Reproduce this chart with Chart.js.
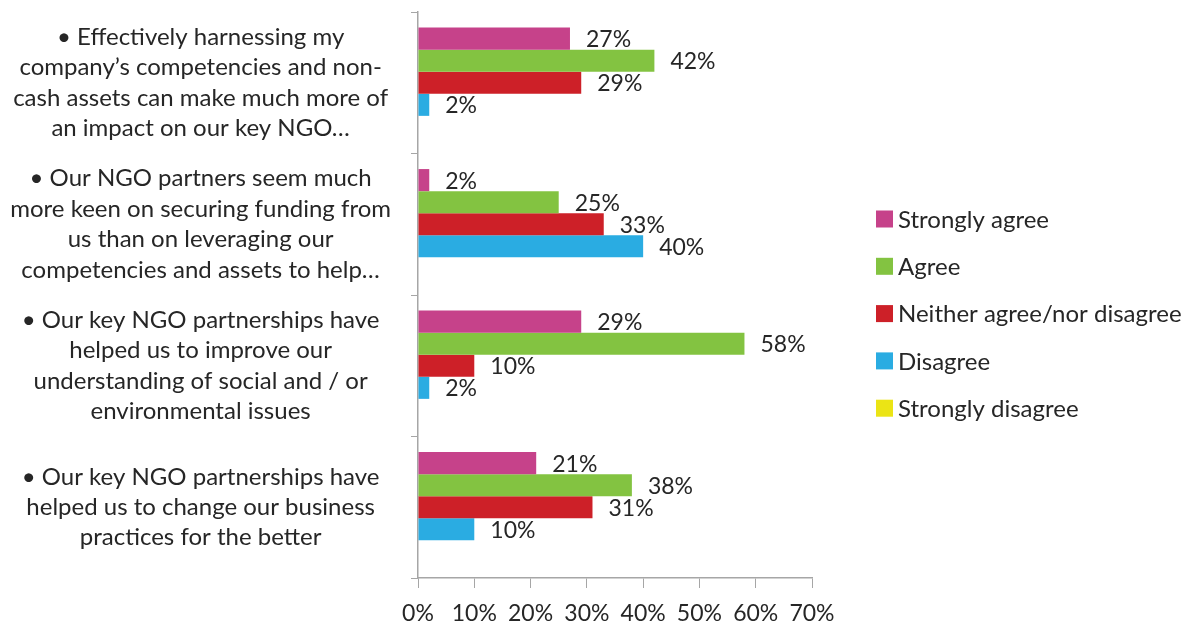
<!DOCTYPE html>
<html>
<head>
<meta charset="utf-8">
<script src="https://cdn.jsdelivr.net/npm/chart.js@4"></script>
<style>
  html, body { margin: 0; padding: 0; background: #fff; }
  #wrap { width: 1192px; height: 624px; }
</style>
</head>
<body>
<div id="wrap"><canvas id="ngoChart" width="1192" height="624"></canvas></div>
<script>
// categories (statements), one per row of bars
const statements = [
    ["• Effectively harnessing my", "company’s competencies and non-", "cash assets can make much more of", "an impact on our key NGO…"],
    ["• Our NGO partners seem much", "more keen on securing funding from", "us than on leveraging our", "competencies and assets to help…"],
    ["• Our key NGO partnerships have", "helped us to improve our", "understanding of social and / or", "environmental issues"],
    ["• Our key NGO partnerships have", "helped us to change our business", "practices for the better"]
];

// series values (% of respondents)
const stronglyAgree    = [27, 2, 29, 21];
const agree            = [42, 25, 58, 38];
const neither          = [29, 33, 10, 31];
const disagree         = [2, 40, 2, 10];
const stronglyDisagree = [0, 0, 0, 0];

const seriesNames  = ["Strongly agree", "Agree", "Neither agree/nor disagree", "Disagree", "Strongly disagree"];
const seriesColors = ["#C6428A", "#83C341", "#CD2028", "#2AACE2", "#EBE415"];

// x axis ticks
const xTicks = [0, 10, 20, 30, 40, 50, 60, 70];

const FONT = "Lato";
const TEXT = "#262626";
const AXIS = "#A6A6A6";

// value labels to the right of each bar
const valueLabels = {
    id: "valueLabels",
    afterDatasetsDraw(chart) {
        const ctx = chart.ctx;
        ctx.save();
        ctx.font = "23px " + FONT;
        ctx.fillStyle = TEXT;
        ctx.textAlign = "left";
        ctx.textBaseline = "middle";
        chart.data.datasets.forEach((ds, i) => {
            const meta = chart.getDatasetMeta(i);
            meta.data.forEach((bar, j) => {
                const v = ds.data[j];
                if (!v) return;
                ctx.fillText(v + "%", bar.x + 16, bar.y + 1);
            });
        });
        ctx.restore();
    }
};

// legend drawn on the right, square swatches
const sideLegend = {
    id: "sideLegend",
    afterDraw(chart) {
        const ctx = chart.ctx;
        ctx.save();
        ctx.font = "24px " + FONT;
        ctx.textAlign = "left";
        ctx.textBaseline = "middle";
        chart.data.datasets.forEach((ds, i) => {
            const y = 219 + i * 47.3;
            ctx.fillStyle = ds.backgroundColor;
            ctx.fillRect(876, y - 8.5, 17, 17);
            ctx.fillStyle = TEXT;
            ctx.fillText(ds.label, 898, y + 1);
        });
        ctx.restore();
    }
};

const allSeries = [stronglyAgree, agree, neither, disagree, stronglyDisagree];

const ngoChart = new Chart(document.getElementById("ngoChart"), {
    type: "bar",
    data: {
        labels: statements,
        datasets: allSeries.map((vals, i) => ({
            label: seriesNames[i],
            data: vals,
            backgroundColor: seriesColors[i],
            borderWidth: 0,
            categoryPercentage: 0.78,
            barPercentage: 1.0
        }))
    },
    options: {
        indexAxis: "y",
        responsive: false,
        animation: false,
        layout: { padding: { top: 12, right: 380, bottom: 0, left: 0 } },
        plugins: {
            legend: { display: false },
            tooltip: { enabled: false }
        },
        scales: {
            x: {
                min: 0,
                max: 70,
                afterBuildTicks: scale => { scale.ticks = xTicks.map(v => ({ value: v })); },
                afterFit: scale => { scale.height = 46; },
                grid: { drawOnChartArea: false, color: AXIS, tickLength: 10 },
                border: { color: AXIS, width: 1.5 },
                ticks: {
                    callback: v => v + "%",
                    color: TEXT,
                    padding: 14,
                    maxRotation: 0,
                    font: { family: FONT, size: 23, lineHeight: 1.0 }
                }
            },
            y: {
                afterFit: scale => {
                    scale.width = 418;
                    scale.paddingTop = 0;
                    scale.paddingBottom = 0;
                },
                grid: { drawOnChartArea: false, color: AXIS, tickLength: 7, offset: true },
                border: { color: AXIS, width: 1.5 },
                ticks: {
                    color: TEXT,
                    crossAlign: "center",
                    padding: 20,
                    font: { family: FONT, size: 24, lineHeight: 1.27 }
                }
            }
        }
    },
    plugins: [valueLabels, sideLegend]
});
</script>
</body>
</html>
